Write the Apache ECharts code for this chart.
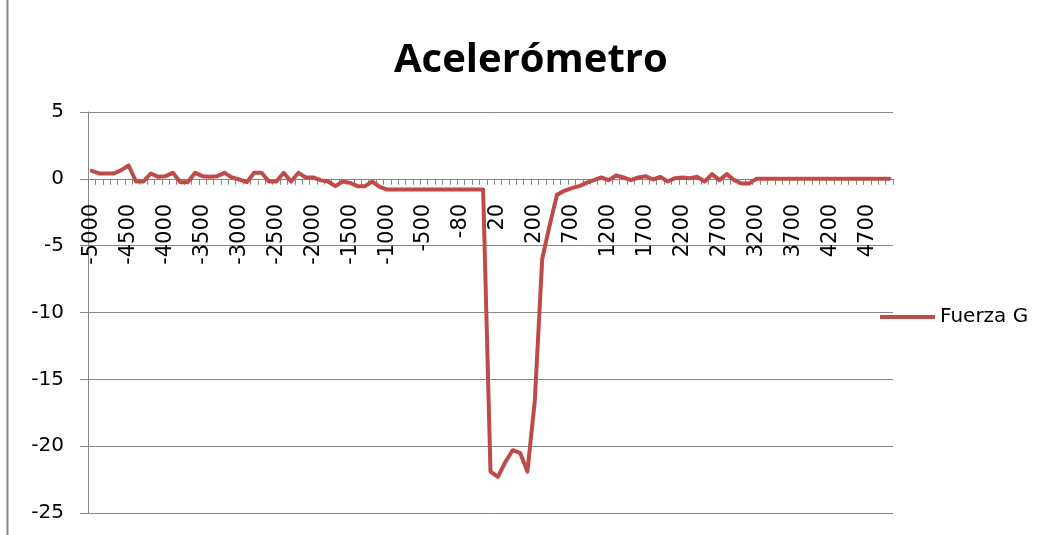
<!DOCTYPE html>
<html>
<head>
<meta charset="utf-8">
<script src="https://cdn.jsdelivr.net/npm/echarts@6/dist/echarts.min.js"></script>
<style>
  html, body { margin: 0; padding: 0; background: #fff; }
  #chart { width: 1048px; height: 535px; }
</style>
</head>
<body>
<div id="chart"></div>
<script>
// tiempo (ms) - categorias del eje x
var tiempos = [
  '-5000','-4900','-4800','-4700','-4600','-4500','-4400','-4300','-4200','-4100',
  '-4000','-3900','-3800','-3700','-3600','-3500','-3400','-3300','-3200','-3100',
  '-3000','-2900','-2800','-2700','-2600','-2500','-2400','-2300','-2200','-2100',
  '-2000','-1900','-1800','-1700','-1600','-1500','-1400','-1300','-1200','-1100',
  '-1000','-900','-800','-700','-600','-500','-400','-300','-200','-100',
  '-80','-60','-40','-20','0','20','40','60','80','100',
  '200','300','400','500','600','700','800','900','1000','1100',
  '1200','1300','1400','1500','1600','1700','1800','1900','2000','2100',
  '2200','2300','2400','2500','2600','2700','2800','2900','3000','3100',
  '3200','3300','3400','3500','3600','3700','3800','3900','4000','4100',
  '4200','4300','4400','4500','4600','4700','4800','4900','5000'
];

// Fuerza G
var fuerzaG = [
  0.6, 0.4, 0.4, 0.4, 0.65, 1.0, -0.2, -0.2, 0.4, 0.15,
  0.2, 0.45, -0.25, -0.25, 0.45, 0.2, 0.15, 0.2, 0.45, 0.1,
  -0.05, -0.25, 0.45, 0.45, -0.2, -0.2, 0.45, -0.2, 0.45, 0.1,
  0.1, -0.1, -0.2, -0.55, -0.2, -0.3, -0.55, -0.55, -0.2, -0.6,
  -0.8, -0.8, -0.8, -0.8, -0.8, -0.8, -0.8, -0.8, -0.8, -0.8,
  -0.8, -0.8, -0.8, -0.8, -21.9, -22.3, -21.2, -20.3, -20.5, -21.9,
  -16.6, -6.0, -3.5, -1.2, -0.9, -0.7, -0.55, -0.3, -0.1, 0.1,
  -0.1, 0.25, 0.1, -0.1, 0.1, 0.2, -0.05, 0.15, -0.2, 0.05,
  0.1, 0.05, 0.15, -0.2, 0.35, -0.1, 0.35, -0.1, -0.35, -0.35,
  0, 0, 0, 0, 0, 0, 0, 0, 0, 0,
  0, 0, 0, 0, 0, 0, 0, 0, 0
];

var ejeY = { min: -25, max: 5, interval: 5 };

// el eje x se dibuja en y=0: se sube desde el borde inferior del grid
var gridTop = 112, gridBottom = 22, alto = 535;
var altoGrid = alto - gridTop - gridBottom;
var desplazX = -altoGrid * (0 - ejeY.min) / (ejeY.max - ejeY.min);

var chart = echarts.init(document.getElementById('chart'));
var option = {
    backgroundColor: '#fff',
    animation: false,
    title: {
        text: 'Acelerómetro',
        left: 389,
        top: 36,
        textStyle: {
            fontFamily: 'Open Sans',
            fontWeight: 'bold',
            fontSize: 40,
            color: '#000'
        }
    },
    legend: {
        data: ['Fuerza G'],
        left: 875,
        top: 302,
        icon: 'rect',
        itemWidth: 55,
        itemHeight: 4,
        itemGap: 5,
        textStyle: { fontFamily: 'DejaVu Sans', fontSize: 20, color: '#000' }
    },
    grid: {
        left: 88, right: 155, top: gridTop, bottom: gridBottom,
        containLabel: false,
        outerBoundsMode: 'none'
    },
    xAxis: {
        type: 'category',
        data: tiempos,
        boundaryGap: true,
        position: 'bottom',
        offset: desplazX,
        axisLine: { onZero: false, lineStyle: { color: '#868686', width: 1 } },
        axisTick: { show: true, interval: 0, length: 6, lineStyle: { color: '#868686' } },
        axisLabel: {
            interval: 4,
            rotate: 90,
            margin: 25,
            fontFamily: 'DejaVu Sans',
            fontSize: 21,
            color: '#000'
        },
        splitLine: { show: false }
    },
    yAxis: {
        type: 'value',
        min: ejeY.min,
        max: ejeY.max,
        interval: ejeY.interval,
        axisLine: { show: true, lineStyle: { color: '#868686', width: 1 } },
        axisTick: { show: true, length: 8, lineStyle: { color: '#868686' } },
        axisLabel: {
            margin: 24,
            fontFamily: 'DejaVu Sans',
            fontSize: 20,
            color: '#000'
        },
        splitLine: { show: true, lineStyle: { color: '#868686', width: 1 } }
    },
    series: [{
        name: 'Fuerza G',
        type: 'line',
        data: fuerzaG,
        symbol: 'none',
        smooth: false,
        itemStyle: { color: '#BE4B48' },
        lineStyle: { color: '#BE4B48', width: 4, join: 'round', cap: 'round' }
    }],
    graphic: [{
        type: 'line',
        shape: { x1: 7.5, y1: 0, x2: 7.5, y2: 535 },
        style: { stroke: '#868686', lineWidth: 2 }
    }]
};
chart.setOption(option);
</script>
</body>
</html>
